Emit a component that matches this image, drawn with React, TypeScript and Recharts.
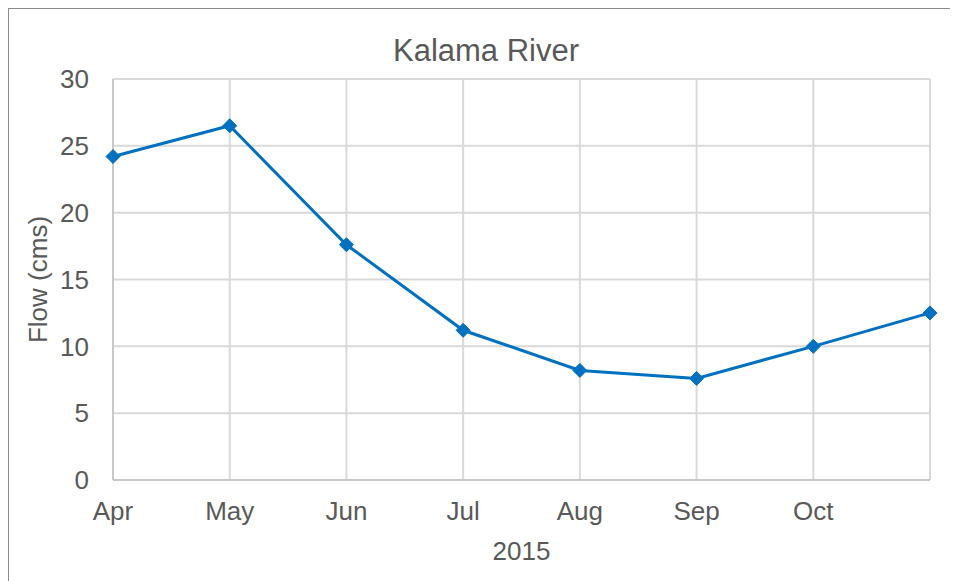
import { CartesianGrid, Line, LineChart, XAxis, YAxis } from "recharts";

const months = ["Apr", "May", "Jun", "Jul", "Aug", "Sep", "Oct", "Nov"];
const tickLabels = ["Apr", "May", "Jun", "Jul", "Aug", "Sep", "Oct", ""];
const flow = [24.2, 26.5, 17.6, 11.2, 8.2, 7.6, 10.0, 12.5];
const yTicks = [0, 5, 10, 15, 20, 25, 30];

const data = months.map((month, i) => ({ month, flow: flow[i] }));

const BLUE = "#0070C0";
const TEXT = "#595959";
const FONT = "'Liberation Sans', Arial, sans-serif";

function Diamond(props: any) {
  const { cx, cy } = props;
  if (cx == null || cy == null) return null;
  const r = 7;
  return (
    <polygon
      points={`${cx},${cy - r} ${cx + r},${cy} ${cx},${cy + r} ${cx - r},${cy}`}
      fill={BLUE}
      stroke={BLUE}
      strokeWidth={1}
    />
  );
}

export default function App() {
  return (
    <div
      style={{
        position: "relative",
        width: 950,
        height: 573,
        borderTop: "1px solid #8c8c8c",
        borderLeft: "1px solid #8c8c8c",
        fontFamily: FONT,
        background: "#fff",
      }}
    >
      <div
        style={{
          position: "absolute",
          left: 477,
          top: 26,
          transform: "translateX(-50%)",
          fontSize: 31,
          lineHeight: "31px",
          color: TEXT,
          whiteSpace: "nowrap",
        }}
      >
        Kalama River
      </div>
      <LineChart
        width={949}
        height={572}
        data={data}
        margin={{ top: 70, right: 28, left: 24, bottom: 11 }}
      >
        <CartesianGrid stroke="#d9d9d9" strokeWidth={2} />
        <XAxis
          dataKey="month"
          height={90}
          tickSize={0}
          tickMargin={22}
          axisLine={{ stroke: "#c8c8c8", strokeWidth: 2 }}
          tickLine={false}
          interval={0}
          tick={{ fontSize: 26, fill: TEXT, fontFamily: FONT }}
          tickFormatter={(_v: string, i: number) => tickLabels[i]}
          label={{
            value: "2015",
            position: "insideBottom",
            offset: 10,
            fontSize: 26,
            fill: TEXT,
            fontFamily: FONT,
          }}
        />
        <YAxis
          width={80}
          domain={[0, 30]}
          ticks={yTicks}
          tickSize={0}
          tickMargin={24}
          axisLine={{ stroke: "#c8c8c8", strokeWidth: 2 }}
          tickLine={false}
          tick={{ fontSize: 26, fill: TEXT, fontFamily: FONT }}
          label={{
            value: "Flow (cms)",
            angle: -90,
            position: "insideLeft",
            offset: 5,
            fontSize: 26,
            fill: TEXT,
            fontFamily: FONT,
            style: { textAnchor: "middle" },
          }}
        />
        <Line
          type="linear"
          dataKey="flow"
          stroke={BLUE}
          strokeWidth={3}
          dot={<Diamond />}
          activeDot={false}
          isAnimationActive={false}
        />
      </LineChart>
    </div>
  );
}
